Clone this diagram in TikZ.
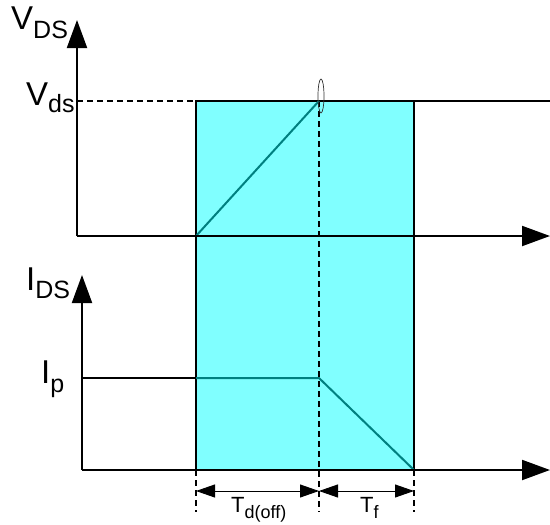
\documentclass[tikz,border=0pt]{standalone}
\usepackage{fontspec}
\setmainfont{Liberation Sans}
\usetikzlibrary{arrows.meta}
\definecolor{fillcyan}{RGB}{128,255,255}
\definecolor{wave}{RGB}{0,128,128}
\newcommand{\subbig}[2]{\raisebox{#1}{\fontsize{25}{27}\selectfont #2}}
\newcommand{\subsmall}[2]{\raisebox{#1}{\fontsize{18}{20}\selectfont #2}}
\begin{document}
\begin{tikzpicture}[x=1pt,y=-1pt,
  axis/.style={line width=2pt,-{Triangle[length=28pt,width=20pt]}},
  edge/.style={line width=2pt},
  wavel/.style={wave,line width=2pt},
  dashl/.style={line width=1.2pt,dash pattern=on 6pt off 4pt},
  dim/.style={line width=0.9pt,{Triangle[length=19pt,width=13pt]}-{Triangle[length=19pt,width=13pt]}},
  lbl/.style={inner sep=0pt,anchor=base west,font=\fontsize{33}{35}\selectfont},
  lbls/.style={inner sep=0pt,anchor=base west,font=\fontsize{22}{24}\selectfont}]
\useasboundingbox (0,0) rectangle (550,525);
% coordinates
\coordinate (o1) at (77,236);
\coordinate (o2) at (82,470);
\coordinate (rtl) at (196,101);
\coordinate (rbr) at (414,470);
\coordinate (mtop) at (319,101);
% cyan region
\fill[fillcyan] (rtl) rectangle (rbr);
% dashed lines
\draw[dashl] (77,101) -- (rtl);
\draw[dashl] (mtop) -- (319,512);
\draw[dashl] (196,470) -- (196,512);
\draw[dashl] (414,470) -- (414,512);
% rectangle edges
\draw[edge] (196,470) -- (rtl) -- (550,101);
\draw[edge] (414,101) -- (rbr);
% waveforms
\draw[wavel] (196,236) -- (mtop);
\draw[edge] (82,378) -- (196,378);
\draw[wavel] (196,378) -- (319,378) -- (rbr);
% axes
\draw[axis] (o1) -- (77,20);
\draw[axis] (o1) -- (550,236);
\draw[axis] (o2) -- (82,275);
\draw[axis] (o2) -- (550,470);
% break symbol
\draw[black!80,line width=0.7pt] (321,96) ellipse [x radius=3, y radius=17];
% dimension arrows
\coordinate (d1) at (196,491);
\coordinate (d2) at (319,491);
\coordinate (d3) at (414,491);
\draw[dim] (d1) -- (d2);
\draw[dim] (d2) -- (d3);
% labels
\node[lbl] (lvds) at (11,29) {V\subbig{-9pt}{DS}};
\node[lbl] (lvd) at (26,105) {V\subbig{-7pt}{ds}};
\node[lbl] (lids) at (26,290) {I\subbig{-8pt}{DS}};
\node[lbl] (lip) at (41,383) {I\subbig{-9pt}{p}};
\node[lbls] (ltd) at (231,512) {T\subsmall{-6pt}{d(off)}};
\node[lbls] (ltf) at (360,512) {T\subsmall{-6pt}{f}};
\end{tikzpicture}
\end{document}
